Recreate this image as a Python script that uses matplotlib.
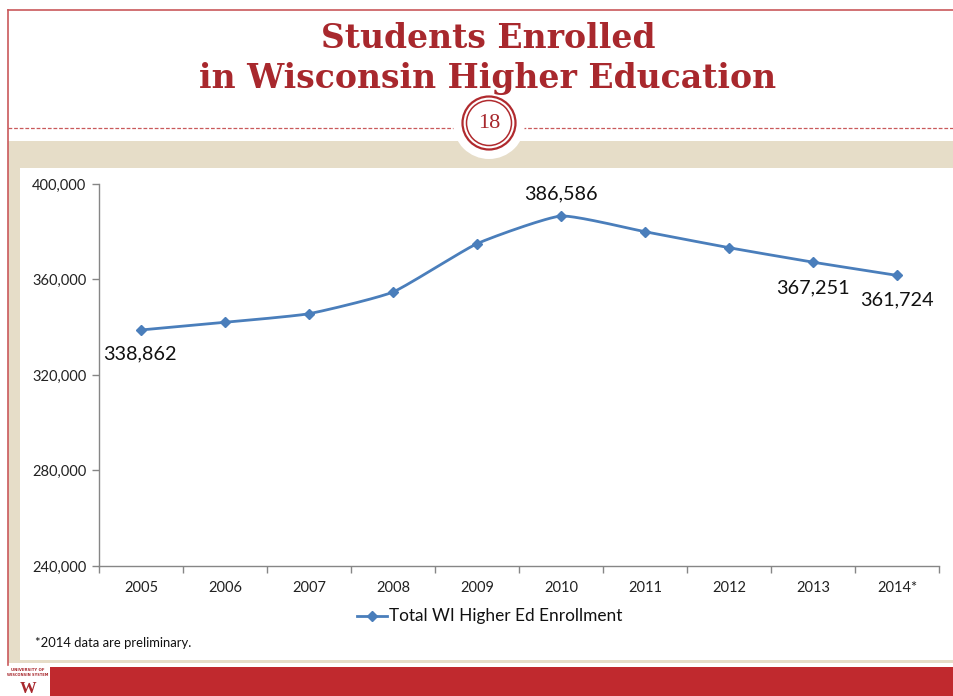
import numpy as np
import matplotlib
matplotlib.use("Agg")
import matplotlib.pyplot as plt
from matplotlib.patches import Rectangle, Circle
from matplotlib.ticker import FuncFormatter, FixedLocator

# ---- data ----
years = ["2005", "2006", "2007", "2008", "2009", "2010", "2011", "2012", "2013", "2014*"]
enrollment = [338862, 342070, 345680, 354760, 375000, 386586, 380020, 373320, 367251, 361724]
labeled = {0: "338,862", 5: "386,586", 8: "367,251", 9: "361,724"}
y_ticks = [240000, 280000, 320000, 360000, 400000]
title_lines = ["Students Enrolled", "in Wisconsin Higher Education"]
slide_number = "18"
legend_label = "Total WI Higher Ed Enrollment"
footnote = "*2014 data are preliminary."
logo_lines = ["UNIVERSITY OF", "WISCONSIN SYSTEM"]

W, H = 954, 696
DPI = 100
fig = plt.figure(figsize=(W / DPI, H / DPI), dpi=DPI)

RED_LINE = "#C9595B"
BEIGE = "#E6DDC8"
DARK_RED = "#A8282D"
BAR_RED = "#C0292E"
BLUE = "#4A7EBB"
GRAY = "#868686"

# ---- background decoration axes (pixel coordinates) ----
bg = fig.add_axes([0, 0, 1, 1])
bg.set_xlim(0, W)
bg.set_ylim(H, 0)
bg.axis("off")

bg.add_patch(Rectangle((8, 141), W - 8, 522, facecolor=BEIGE, edgecolor="none", zorder=1))
bg.add_patch(Rectangle((20, 168), W - 21, 492, facecolor="white", edgecolor="none", zorder=2))
bg.plot([8, W], [10, 10], color=RED_LINE, lw=1.2, zorder=3)
bg.plot([8, 8], [10, 665], color=RED_LINE, lw=1.2, zorder=3)
bg.plot([8, 455], [128, 128], color=RED_LINE, lw=0.9, ls=(0, (3, 1.5)), zorder=3)
bg.plot([522, W], [128, 128], color=RED_LINE, lw=0.9, ls=(0, (3, 1.5)), zorder=3)
# bottom red bar + logo
bg.add_patch(Rectangle((50, 667), W - 50, 29, facecolor=BAR_RED, edgecolor="none", zorder=3))
bg.text(28, 668, logo_lines[0], fontsize=2.8, color=DARK_RED, ha="center", va="top",
        fontweight="bold", family="DejaVu Sans", zorder=4)
bg.text(28, 673.5, logo_lines[1], fontsize=2.6, color=DARK_RED, ha="center", va="top",
        fontweight="bold", family="DejaVu Sans", zorder=4)
bg.text(28, 693, "W", fontsize=12, color=DARK_RED, ha="center", va="baseline",
        fontweight="bold", family="Liberation Serif", zorder=4)

# slide number badge
cx, cy = 489, 123
bg.add_patch(Circle((cx, cy), 36, facecolor="white", edgecolor="none", zorder=4))
bg.add_patch(Circle((cx, cy), 26.5, facecolor="white", edgecolor="#B02A2E", lw=1.6, zorder=5))
bg.add_patch(Circle((cx, cy), 22.5, facecolor="none", edgecolor="#B02A2E", lw=1.1, zorder=5))
bg.text(cx, cy + 1, slide_number, fontsize=16, color=DARK_RED, ha="center", va="center",
        family="Liberation Serif", zorder=6)

# title
title_family = ["DejaVu Serif Condensed", "DejaVu Serif"]
t1 = bg.text(488, 48, title_lines[0], fontsize=25, color=DARK_RED, ha="center", va="baseline",
             family=title_family, fontweight="bold", zorder=6)
t2 = bg.text(488, 88, title_lines[1], fontsize=25, color=DARK_RED, ha="center", va="baseline",
             family=title_family, fontweight="bold", zorder=6)
fig.canvas.draw()
r = fig.canvas.get_renderer()
w2 = t2.get_window_extent(r).width
scale = 576.0 / w2
t1.set_fontsize(25 * scale)
t2.set_fontsize(25 * scale)

# ---- chart axes ----
L, R, T, B = 99, 939, 184, 566
ax = fig.add_axes([L / W, (H - B) / H, (R - L) / W, (B - T) / H])
ax.set_facecolor("none")
ax.set_zorder(5)

x = np.arange(len(years))

# light Excel-like smoothing: cardinal spline in screen-proportional units
ymin, ymax = y_ticks[0], y_ticks[-1]
xs = x * (R - L) / len(years)
ys = (np.array(enrollment) - ymin) / (ymax - ymin) * (B - T)
px, py = [], []
n = len(xs)
tension = 0.08
for i in range(n - 1):
    p0 = np.array([xs[max(i - 1, 0)], ys[max(i - 1, 0)]])
    p1 = np.array([xs[i], ys[i]])
    p2 = np.array([xs[i + 1], ys[i + 1]])
    p3 = np.array([xs[min(i + 2, n - 1)], ys[min(i + 2, n - 1)]])
    c1 = p1 + (p2 - p0) * tension
    c2 = p2 - (p3 - p1) * tension
    t = np.linspace(0, 1, 30)[:, None]
    seg = (1 - t) ** 3 * p1 + 3 * (1 - t) ** 2 * t * c1 + 3 * (1 - t) * t ** 2 * c2 + t ** 3 * p2
    px.extend(seg[:, 0])
    py.extend(seg[:, 1])
sx = np.array(px) / ((R - L) / len(years))
sy = np.array(py) / (B - T) * (ymax - ymin) + ymin

ax.plot(sx, sy, color=BLUE, lw=2.0, solid_capstyle="round", zorder=3)
ax.plot(x, enrollment, ls="none", marker="D", markersize=5.2, color=BLUE, zorder=4)

ax.set_xlim(-0.5, len(years) - 0.5)
ax.set_ylim(ymin, ymax)

for sp in ["top", "right"]:
    ax.spines[sp].set_visible(False)
for sp in ["left", "bottom"]:
    ax.spines[sp].set_color(GRAY)
    ax.spines[sp].set_linewidth(1.0)

ax.yaxis.set_major_locator(FixedLocator(y_ticks))
ax.yaxis.set_major_formatter(FuncFormatter(lambda v, p: f"{int(v):,}"))
ax.tick_params(axis="y", direction="out", length=5, width=1, color=GRAY, pad=4,
               labelsize=10.5, labelcolor="#222222")
ax.set_xticks(x)
ax.set_xticklabels(years)
ax.set_xticks(np.arange(-0.5, len(years)), minor=True)
ax.tick_params(axis="x", which="major", length=0, pad=11, labelsize=10.5, labelcolor="#222222")
ax.tick_params(axis="x", which="minor", direction="out", length=5, width=1, color=GRAY)
for lab in ax.get_xticklabels() + ax.get_yticklabels():
    lab.set_family("Lato")

# data labels
offsets = {0: (-38, -24, "left"), 5: (0, 22, "center"), 8: (0, -26, "center"), 9: (0, -24, "center")}
for i, txt in labeled.items():
    dx, dy, ha = offsets[i]
    ax.annotate(txt, (x[i], enrollment[i]), xytext=(dx, dy), textcoords="offset pixels",
                ha=ha, va="center", fontsize=14.3, family="Lato", color="#111111")

# legend (manual, figure pixel coords)
bg.plot([357, 387], [616, 616], color=BLUE, lw=2.0, zorder=6)
bg.plot([372], [616], marker="D", markersize=5.2, color=BLUE, zorder=7)
bg.text(389, 616, legend_label, fontsize=12.4, family="Lato", color="#111111",
        ha="left", va="center", zorder=6)

# footnote
bg.text(35, 643, footnote, fontsize=9.4, family="Lato", color="#111111",
        ha="left", va="center", zorder=6)

fig.savefig("out.png", dpi=DPI)
